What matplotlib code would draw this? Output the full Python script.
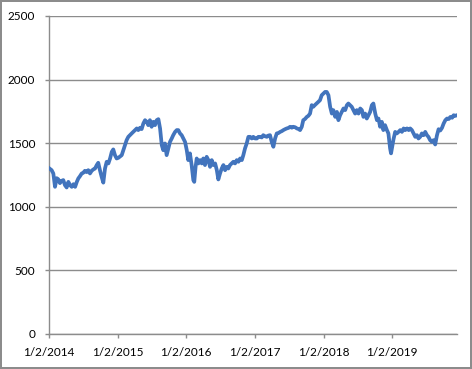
import matplotlib
matplotlib.use("Agg")
import matplotlib.pyplot as plt
import pandas as pd

dates = [
    "2014-01-02", "2014-01-16", "2014-01-25", "2014-02-03", "2014-02-12", "2014-02-20",
    "2014-03-01", "2014-03-10", "2014-03-19", "2014-03-28", "2014-04-06", "2014-04-15",
    "2014-04-24", "2014-05-03", "2014-05-12", "2014-05-21", "2014-05-30", "2014-06-07",
    "2014-06-16", "2014-06-25", "2014-07-03", "2014-07-12", "2014-07-21", "2014-07-30",
    "2014-08-08", "2014-08-17", "2014-08-26", "2014-09-04", "2014-09-13", "2014-09-21",
    "2014-09-30", "2014-10-09", "2014-10-18", "2014-10-27", "2014-11-05", "2014-11-14",
    "2014-11-23", "2014-12-02", "2014-12-10", "2014-12-19", "2014-12-28", "2015-01-06",
    "2015-01-24", "2015-02-10", "2015-02-19", "2015-02-28", "2015-03-09", "2015-03-18",
    "2015-03-26", "2015-04-05", "2015-04-14", "2015-04-22", "2015-05-01", "2015-05-10",
    "2015-05-19", "2015-05-28", "2015-06-06", "2015-06-14", "2015-06-23", "2015-07-02",
    "2015-07-11", "2015-07-20", "2015-07-29", "2015-08-07", "2015-08-16", "2015-08-25",
    "2015-09-02", "2015-09-11", "2015-09-20", "2015-09-29", "2015-10-08", "2015-10-17",
    "2015-10-25", "2015-11-04", "2015-11-13", "2015-11-21", "2015-11-30", "2015-12-09",
    "2015-12-18", "2015-12-27", "2016-01-05", "2016-01-13", "2016-01-22", "2016-01-31",
    "2016-02-09", "2016-02-14", "2016-02-21", "2016-02-27", "2016-03-07", "2016-03-16",
    "2016-03-25", "2016-04-02", "2016-04-11", "2016-04-20", "2016-04-29", "2016-05-08",
    "2016-05-17", "2016-05-25", "2016-06-04", "2016-06-13", "2016-06-21", "2016-06-30",
    "2016-07-09", "2016-07-18", "2016-07-27", "2016-08-05", "2016-08-13", "2016-08-22",
    "2016-08-31", "2016-09-09", "2016-09-18", "2016-09-27", "2016-10-06", "2016-10-15",
    "2016-10-24", "2016-11-01", "2016-11-10", "2016-11-19", "2016-11-28", "2016-12-07",
    "2016-12-16", "2016-12-24", "2017-01-03", "2017-01-12", "2017-01-20", "2017-01-29",
    "2017-02-07", "2017-02-15", "2017-02-24", "2017-03-06", "2017-03-14", "2017-03-23",
    "2017-04-01", "2017-04-10", "2017-04-19", "2017-04-28", "2017-05-07", "2017-05-16",
    "2017-05-25", "2017-06-02", "2017-06-11", "2017-06-20", "2017-06-29", "2017-07-08",
    "2017-07-17", "2017-07-25", "2017-08-04", "2017-08-13", "2017-08-21", "2017-08-30",
    "2017-09-08", "2017-09-16", "2017-09-25", "2017-10-05", "2017-10-13", "2017-10-22",
    "2017-10-31", "2017-11-08", "2017-11-17", "2017-11-26", "2017-12-05", "2017-12-14",
    "2017-12-23", "2018-01-02", "2018-01-10", "2018-01-19", "2018-01-28", "2018-02-06",
    "2018-02-15", "2018-02-23", "2018-03-05", "2018-03-14", "2018-03-22", "2018-03-31",
    "2018-04-09", "2018-04-18", "2018-04-27", "2018-05-06", "2018-05-14", "2018-05-23",
    "2018-06-01", "2018-06-10", "2018-06-19", "2018-06-28", "2018-07-07", "2018-07-16",
    "2018-07-25", "2018-08-02", "2018-08-11", "2018-08-20", "2018-08-29", "2018-09-07",
    "2018-09-16", "2018-09-24", "2018-10-04", "2018-10-13", "2018-10-21", "2018-10-30",
    "2018-11-08", "2018-11-16", "2018-11-25", "2018-12-05", "2018-12-13", "2018-12-22",
    "2018-12-27", "2019-01-09", "2019-01-18", "2019-01-27", "2019-02-05", "2019-02-14",
    "2019-02-23", "2019-03-04", "2019-03-13", "2019-03-22", "2019-03-31", "2019-04-08",
    "2019-04-17", "2019-04-26", "2019-05-05", "2019-05-14", "2019-05-22", "2019-05-31",
    "2019-06-09", "2019-06-18", "2019-06-27", "2019-07-06", "2019-07-14", "2019-07-23",
    "2019-08-01", "2019-08-10", "2019-08-19", "2019-08-28", "2019-09-06", "2019-09-15",
    "2019-09-24", "2019-10-03", "2019-10-12", "2019-10-21", "2019-10-30", "2019-11-08",
    "2019-11-17", "2019-11-25", "2019-12-04", "2019-12-13",
]

values = [
    1304, 1288, 1262, 1157, 1225, 1217,
    1186, 1204, 1210, 1170, 1152, 1196,
    1170, 1157, 1178, 1157, 1196, 1223,
    1241, 1262, 1267, 1283, 1273, 1288,
    1262, 1283, 1294, 1301, 1328, 1346,
    1288, 1236, 1190, 1301, 1354, 1341,
    1380, 1432, 1451, 1406, 1380, 1385,
    1406, 1485, 1524, 1550, 1563, 1577,
    1589, 1603, 1616, 1603, 1621, 1611,
    1655, 1681, 1668, 1642, 1681, 1629,
    1668, 1642, 1681, 1689, 1616, 1485,
    1445, 1498, 1406, 1459, 1511, 1537,
    1563, 1589, 1603, 1603, 1577, 1563,
    1537, 1510, 1445, 1367, 1420, 1328,
    1210, 1196, 1314, 1380, 1341, 1367,
    1341, 1380, 1328, 1393, 1367, 1314,
    1367, 1328, 1341, 1288, 1215, 1262,
    1301, 1328, 1288, 1314, 1301, 1328,
    1341, 1354, 1341, 1367, 1354, 1380,
    1367, 1406, 1459, 1498, 1550, 1550,
    1537, 1550, 1537, 1537, 1550, 1550,
    1545, 1563, 1555, 1550, 1560, 1563,
    1511, 1472, 1537, 1577, 1580, 1589,
    1595, 1603, 1610, 1616, 1620, 1629,
    1622, 1629, 1625, 1616, 1612, 1603,
    1629, 1681, 1690, 1707, 1715, 1733,
    1799, 1786, 1800, 1812, 1825, 1838,
    1877, 1891, 1903, 1903, 1877, 1786,
    1733, 1760, 1707, 1746, 1681, 1720,
    1746, 1773, 1760, 1799, 1812, 1799,
    1786, 1760, 1733, 1760, 1733, 1773,
    1760, 1707, 1733, 1694, 1720, 1746,
    1799, 1812, 1733, 1681, 1694, 1629,
    1668, 1603, 1642, 1603, 1577, 1459,
    1420, 1530, 1589, 1577, 1589, 1603,
    1589, 1616, 1603, 1616, 1603, 1616,
    1603, 1577, 1550, 1563, 1537, 1550,
    1577, 1563, 1589, 1563, 1550, 1524,
    1511, 1524, 1490, 1560, 1610, 1600,
    1620, 1655, 1681, 1694, 1690, 1707,
    1700, 1720, 1715, 1720,
]

y_ticks = [0, 500, 1000, 1500, 2000, 2500]
x_tick_labels = ["1/2/2014", "1/2/2015", "1/2/2016", "1/2/2017", "1/2/2018", "1/2/2019"]

x = pd.to_datetime(dates)
x_ticks = pd.to_datetime(x_tick_labels, format="%m/%d/%Y")

plt.rcParams["font.family"] = ["Lato", "DejaVu Sans"]

fig = plt.figure(figsize=(4.72, 3.69), dpi=100)
ax = fig.add_axes([49 / 472, 1 - 334 / 369, (457 - 49) / 472, (334 - 16) / 369])

grid_c = "#8c8c8c"
ax.plot(x, values, color="#4274bd", lw=2.7, solid_joinstyle="round", zorder=3)

ax.set_ylim(0, 2500)
ax.set_yticks(y_ticks)
ax.set_yticklabels([str(v) for v in y_ticks])
ax.set_xlim(x[0], x[-1])
ax.set_xticks(x_ticks)
ax.set_xticklabels(x_tick_labels)

ax.grid(axis="y", color=grid_c, lw=1.0)
ax.set_axisbelow(True)
for s in ["top", "right"]:
    ax.spines[s].set_visible(False)
for s in ["left", "bottom"]:
    ax.spines[s].set_color(grid_c)
    ax.spines[s].set_linewidth(1.0)

ax.tick_params(axis="y", length=3, width=1, color=grid_c, pad=7, labelsize=8.5, labelcolor="black")
ax.tick_params(axis="x", length=3, width=1, color=grid_c, pad=6, labelsize=8.5, labelcolor="black")

fig.patch.set_edgecolor("#8c8c8c")
fig.patch.set_linewidth(1.5)

fig.savefig("out.png", dpi=100, edgecolor=fig.get_edgecolor(), facecolor="white")
